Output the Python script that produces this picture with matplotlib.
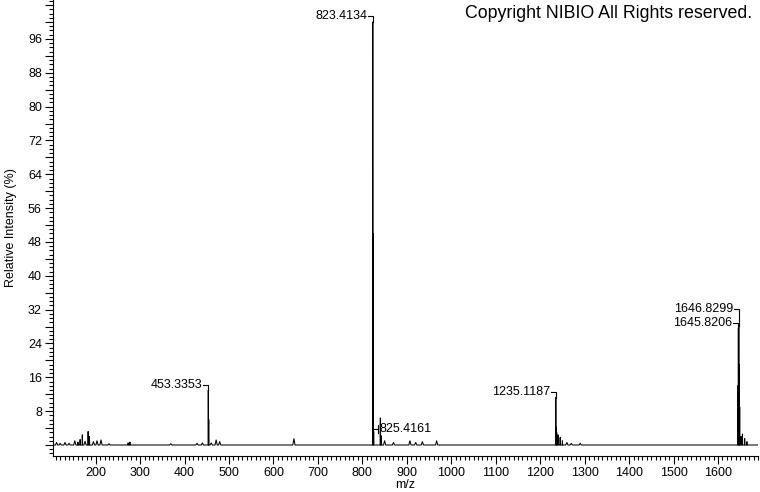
import matplotlib.pyplot as plt
from matplotlib.ticker import MultipleLocator, FuncFormatter

plt.rcParams['font.family'] = ['Liberation Sans', 'DejaVu Sans']

# centroid peaks (m/z, relative intensity %)
peak_mz = [112, 120, 131, 140, 153, 160, 165, 170, 176, 183, 186, 195, 203, 212,
           230, 273, 277, 369, 428, 440, 453.3353, 454.34, 460, 471, 479,
           646, 823.4134, 824.42, 825.4161, 840.4, 842, 850, 870, 907, 920, 935,
           967, 1235.1187, 1236.12, 1237.1, 1240, 1245, 1250, 1260, 1270, 1290,
           1644.8, 1645.8206, 1646.8299, 1647.8, 1648.8, 1652, 1655, 1660, 1665]
peak_int = [0.6, 0.4, 0.6, 0.4, 1.0, 0.7, 1.3, 2.4, 0.9, 3.2, 2.0, 0.8, 1.0, 1.2,
            0.3, 0.5, 0.7, 0.3, 0.4, 0.5, 13.0, 6.0, 0.5, 1.2, 0.8,
            1.5, 100.0, 50.0, 3.2, 6.4, 2.2, 1.0, 0.6, 1.0, 0.6, 0.8,
            1.0, 11.2, 4.2, 3.0, 2.4, 1.8, 1.0, 0.6, 0.4, 0.4,
            14.0, 27.6, 28.2, 19.0, 9.0, 2.0, 2.6, 1.5, 0.8]

labels = ['453.3353', '823.4134', '825.4161', '1235.1187', '1645.8206', '1646.8299']

# profile trace: each centroid drawn as a spike on a zero baseline;
# isolated small peaks get a wider foot, isotope clusters stay narrow
xs, ys = [104], [0]
for i, (mz, h) in enumerate(zip(peak_mz, peak_int)):
    gaps = []
    if i > 0:
        gaps.append(mz - peak_mz[i - 1])
    if i < len(peak_mz) - 1:
        gaps.append(peak_mz[i + 1] - mz)
    w = 2.5 if min(gaps) > 5 else 0.45
    xs += [mz - w, mz, mz + w]
    ys += [0, h, 0]
xs.append(1690)
ys.append(0)

fig = plt.figure(figsize=(7.6, 4.92), dpi=100)
ax = fig.add_axes([53 / 760, 36 / 492, 705 / 760, 456 / 492])
ax.plot(xs, ys, color='black', lw=0.75)

ax.set_xlim(104, 1690)
ax.set_ylim(-2.6, 105.2)
ax.spines['top'].set_visible(False)
ax.spines['right'].set_visible(False)

ax.set_xticks(range(200, 1700, 100))
ax.xaxis.set_minor_locator(MultipleLocator(10))
ax.yaxis.set_major_locator(MultipleLocator(4))
ax.yaxis.set_minor_locator(MultipleLocator(1))
ax.yaxis.set_major_formatter(FuncFormatter(
    lambda v, p: '%d' % v if 0 < v <= 100 and int(round(v)) % 8 == 0 else ''))
ax.tick_params(axis='both', which='major', length=6, width=0.8,
               labelsize=9, pad=2, color='black')
ax.tick_params(axis='both', which='minor', length=3, width=0.8, color='black')

ax.set_xlabel('m/z', fontsize=9, labelpad=0)
ax.set_ylabel('Relative Intensity (%)', fontsize=9, labelpad=7.5)

# peak labels with bracket leaders
lab_fs = 9
for lab in labels:
    mz = float(lab)
    h = peak_int[peak_mz.index(mz)]
    if lab == '825.4161':
        yb = h + 0.6
        ax.plot([mz, mz + 10], [yb, yb], color='black', lw=0.8)
        ax.plot([mz + 10, mz + 10], [yb - 1, yb + 1], color='black', lw=0.8)
        ax.text(mz + 12, yb, lab, ha='left', va='center', fontsize=lab_fs)
        continue
    yb = min(h + 1.3, 103.3)
    if lab == '1646.8299':
        yb = 32.2
    elif lab == '1645.8206':
        yb = 28.9
    ax.plot([mz - 11, mz, mz], [yb, yb, h], color='black', lw=0.8)
    ax.text(mz - 13, yb, lab, ha='right', va='center', fontsize=lab_fs)

fig.text(752 / 760, 1 - 14 / 492, 'Copyright NIBIO All Rights reserved.',
         ha='right', va='center', fontsize=12.8)

fig.savefig('out.png', dpi=100)
